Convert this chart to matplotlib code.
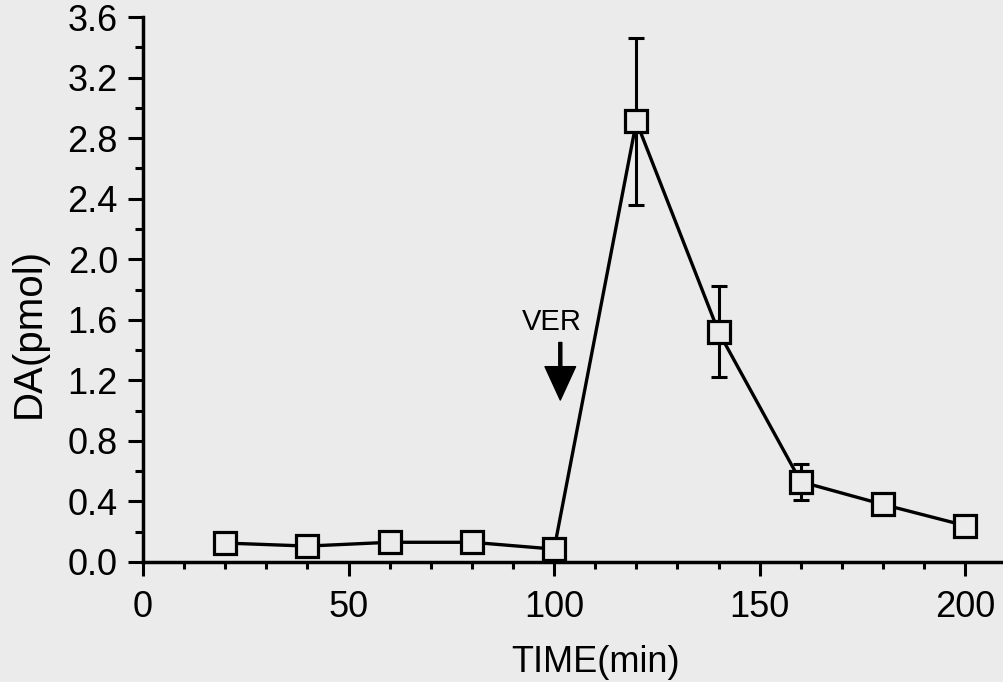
import matplotlib
matplotlib.use("Agg")
import matplotlib.pyplot as plt
from matplotlib.ticker import MultipleLocator

# Time points (min) and dopamine (pmol)
timeList = [20, 40, 60, 80, 100, 120, 140, 160, 180, 200]
daList = [0.125, 0.105, 0.13, 0.13, 0.085, 2.91, 1.52, 0.53, 0.38, 0.24]
errList = [0, 0, 0, 0, 0, 0.55, 0.30, 0.12, 0, 0]

plt.rcParams['font.family'] = ['Liberation Sans', 'DejaVu Sans']

bg = '#ebebeb'
fig = plt.figure(figsize=(10.04, 6.82), dpi=100, facecolor=bg)
ax = fig.add_axes([0.1424, 0.176, 0.86, 0.799], facecolor=bg)

# error bars first so markers sit on top
ax.errorbar(timeList, daList, yerr=errList, fmt='none', ecolor='black',
            elinewidth=2.2, capsize=6, capthick=2.2, zorder=2)
ax.plot(timeList, daList, color='black', linewidth=2.4, marker='s',
        markersize=15.5, markerfacecolor=bg, markeredgecolor='black',
        markeredgewidth=2.3, zorder=3, clip_on=False)

# VER arrow
ax.annotate('', xy=(101.5, 1.07), xytext=(101.5, 1.45),
            arrowprops=dict(width=2.2, headwidth=22, headlength=24,
                            shrink=0, facecolor='black', edgecolor='black'))
ax.text(99.5, 1.585, 'VER', fontsize=21, ha='center', va='center')

ax.set_xlim(0, 210)
ax.set_ylim(0, 3.6)
ax.xaxis.set_major_locator(MultipleLocator(50))
ax.xaxis.set_minor_locator(MultipleLocator(10))
ax.yaxis.set_major_locator(MultipleLocator(0.4))
ax.yaxis.set_minor_locator(MultipleLocator(0.2))
ax.yaxis.set_major_formatter(plt.FuncFormatter(lambda v, p: '%.1f' % v))

for side in ['top', 'right']:
    ax.spines[side].set_visible(False)
for side in ['left', 'bottom']:
    ax.spines[side].set_linewidth(2.5)

ax.tick_params(axis='y', which='major', direction='out', length=11, width=2.2,
               labelsize=26, pad=7)
ax.tick_params(axis='y', which='minor', direction='out', length=6, width=2.2)
ax.tick_params(axis='x', which='major', direction='out', length=10, width=2.2,
               labelsize=26, pad=10)
ax.tick_params(axis='x', which='minor', direction='out', length=5, width=2.2)

fig.text(596 / 1004, 10 / 682, 'TIME(min)', fontsize=26, ha='center', va='baseline')
fig.text(29 / 1004, 1 - 333 / 682, 'DA(pmol)', fontsize=29, rotation=90,
         ha='center', va='center')

fig.savefig('out.png', dpi=100, facecolor=bg)
